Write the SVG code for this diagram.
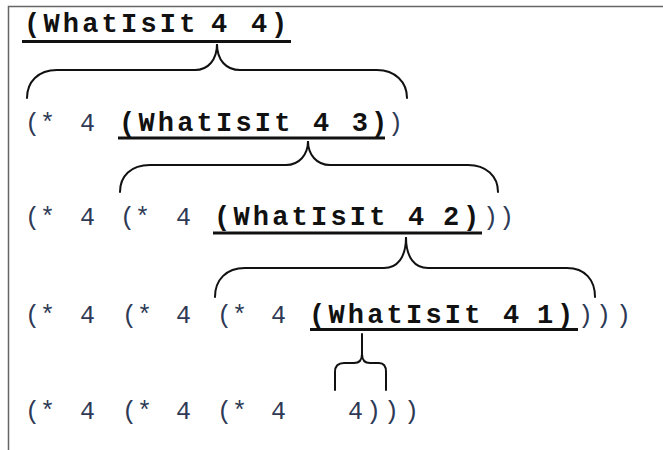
<svg xmlns="http://www.w3.org/2000/svg" width="663" height="450" viewBox="0 0 663 450">
<style>
.b{font-family:"Liberation Mono","Courier New",monospace;font-weight:bold;font-size:27px;letter-spacing:3.2px;fill:#111}
.e{letter-spacing:0}
.n{font-family:"Liberation Mono","Courier New",monospace;font-size:25px;fill:#2e3a55}
.ul{stroke:#111;stroke-width:3;fill:none}
.br{stroke:#111;stroke-width:2;fill:none;stroke-linecap:round}
.fr{stroke:#666;stroke-width:1.5;fill:none}
</style>
<rect width="663" height="450" fill="#fff"/>
<path class="fr" d="M8.5,450 V6.5 H663"/>
<g id="row1">
<text class="b" y="32"><tspan x="24">(WhatIsIt</tspan><tspan x="211">4</tspan><tspan x="251">4</tspan><tspan class="e" x="271">)</tspan></text>
<line class="ul" x1="22" y1="41.5" x2="291" y2="41.5"/>
</g>
<g id="row2">
<text class="n" y="131"><tspan x="25">(*</tspan><tspan x="80">4</tspan><tspan x="388">)</tspan></text>
<text class="b" y="131"><tspan x="119">(WhatIsIt 4 3</tspan><tspan class="e" x="371">)</tspan></text>
<line class="ul" x1="118" y1="138" x2="385" y2="138"/>
</g>
<g id="row3">
<text class="n" y="225"><tspan x="25">(*</tspan><tspan x="80">4</tspan><tspan x="120">(*</tspan><tspan x="176">4</tspan><tspan x="483">)</tspan><tspan x="499">)</tspan></text>
<text class="b" y="225"><tspan x="214">(WhatIsIt 4</tspan><tspan x="443">2</tspan><tspan class="e" x="463">)</tspan></text>
<line class="ul" x1="213" y1="233" x2="482" y2="233"/>
</g>
<g id="row4">
<text class="n" y="323"><tspan x="25">(*</tspan><tspan x="80">4</tspan><tspan x="122">(*</tspan><tspan x="176">4</tspan><tspan x="217">(*</tspan><tspan x="271">4</tspan><tspan x="578">)</tspan><tspan x="596">)</tspan><tspan x="616">)</tspan></text>
<text class="b" y="323"><tspan x="309">(WhatIsIt 4</tspan><tspan x="537">1</tspan><tspan class="e" x="557">)</tspan></text>
<line class="ul" x1="310" y1="329.5" x2="578" y2="329.5"/>
</g>
<g id="row5">
<text class="n" y="419"><tspan x="25">(*</tspan><tspan x="80">4</tspan><tspan x="122">(*</tspan><tspan x="176">4</tspan><tspan x="217">(*</tspan><tspan x="271">4</tspan><tspan x="348">4</tspan><tspan x="366">)</tspan><tspan x="384">)</tspan><tspan x="404">)</tspan></text>
</g>
<g id="connectors">
<path class="br" d="M27,98 C27,82 38,70 57,70 L195,70 C208,70 217,60 217,44 C217,60 226,70 240,70 L377,70 C395,70 407,82 407,98"/>
<path class="br" d="M120,192 C120,176 131,165 150,165 L286,165 C299,165 308,155 308,141 C308,155 317,165 330,165 L468,165 C486,165 498,176 498,192"/>
<path class="br" d="M215,297 C215,280 226,268 245,268 L384,268 C397,268 406,258 406,237 C406,258 415,268 428,268 L567,268 C585,268 595,280 595,297"/>
<path class="br" d="M335,390 L335,372 C335,366 338,363 344,363 L354,363 C359,363 362,360 362,354 L362,334 M362,354 C362,360 365,363 370,363 L379,363 C384,363 386,366 386,372 L386,390"/>
</g>
</svg>
